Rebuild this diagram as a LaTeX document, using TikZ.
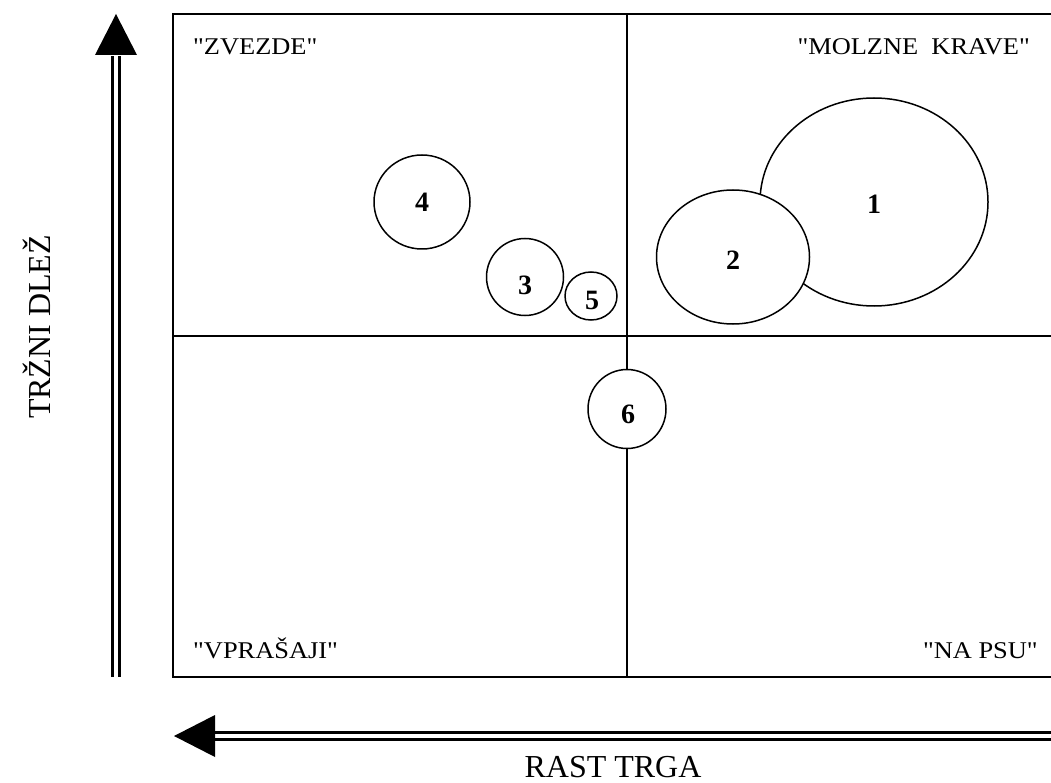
\documentclass[tikz,border=0pt]{standalone}
\usepackage{fontspec}
\setmainfont{Liberation Serif}
\newfontfamily\widefont[FakeStretch=1.1]{Liberation Serif}
\newcommand\qq{\symbol{34}}
\usetikzlibrary{shapes.geometric}
\tikzset{
  bub/.style={ellipse, draw, line width=1.5pt, fill=white, inner sep=0pt},
  num/.style={font=\fontsize{28}{30}\selectfont\bfseries, inner sep=0pt},
  corner/.style={font=\widefont\fontsize{24}{26}\selectfont, inner sep=0pt},
  axislab/.style={font=\fontsize{32}{34}\selectfont, inner sep=0pt},
  frame/.style={line width=2pt},
  divider/.style={line width=1.5pt},
  dbl/.style={line width=3pt, double=white, double distance=4pt},
  head/.style={fill=black, draw=none}
}
\begin{document}
\begin{tikzpicture}[x=1pt,y=-1pt]
\useasboundingbox (0,0) rectangle (1051,783);
% frame and quadrants
\coordinate (tl) at (173,14);
\coordinate (br) at (1055,677);
\draw[frame] (tl) rectangle (br);
\coordinate (vt) at (627,14);
\coordinate (vb) at (627,677);
\coordinate (hl) at (173,336);
\coordinate (hr) at (1055,336);
\draw[divider] (vt) -- (vb);
\draw[divider] (hl) -- (hr);
% vertical arrow
\coordinate (vtip) at (116,14);
\coordinate (vbl) at (95,55);
\coordinate (vbr) at (137,55);
\coordinate (vbase) at (116,56);
\coordinate (vend) at (116,677);
\draw[dbl] (vend) -- (vbase);
\fill[head] (vtip) -- (vbr) -- (vbl) -- cycle;
% horizontal arrow
\coordinate (htip) at (174,736);
\coordinate (hbt) at (215,715);
\coordinate (hbb) at (215,757);
\coordinate (hbase) at (214,735.5);
\coordinate (hend) at (1055,735.5);
\draw[dbl] (hend) -- (hbase);
\fill[head] (htip) -- (hbt) -- (hbb) -- cycle;
% axis labels
\node[axislab, rotate=90] (yl) at (37,327) {TRŽNI DLEŽ};
\node[axislab] (xl) at (613,767) {RAST TRGA};
% corner labels
\node[corner, anchor=base west] (zv) at (193,55) {\qq ZVEZDE\qq};
\node[corner, anchor=base east] (mk) at (1030,55) {\qq MOLZNE\ \ KRAVE\qq};
\node[corner, anchor=base west] (vp) at (193,658) {\qq VPRAŠAJI\qq};
\node[corner, anchor=base east] (np) at (1038,658) {\qq NA PSU\qq};
% bubbles
\node[bub, minimum width=228pt, minimum height=208pt] (c1) at (874,202) {};
\node[bub, minimum width=153pt, minimum height=134pt] (c2) at (733,257) {};
\node[bub, minimum width=96pt, minimum height=94pt] (c4) at (422,202) {};
\node[bub, minimum width=77pt, minimum height=77pt] (c3) at (525,277) {};
\node[bub, minimum width=52pt, minimum height=48pt] (c5) at (591,296) {};
\node[bub, minimum width=78pt, minimum height=79pt] (c6) at (627,409) {};
\node[num] (n1) at (874,204) {1};
\node[num] (n2) at (733,260) {2};
\node[num] (n4) at (422,202) {4};
\node[num] (n3) at (525,285) {3};
\node[num] (n5) at (592,300) {5};
\node[num] (n6) at (628,414) {6};
\end{tikzpicture}
\end{document}
